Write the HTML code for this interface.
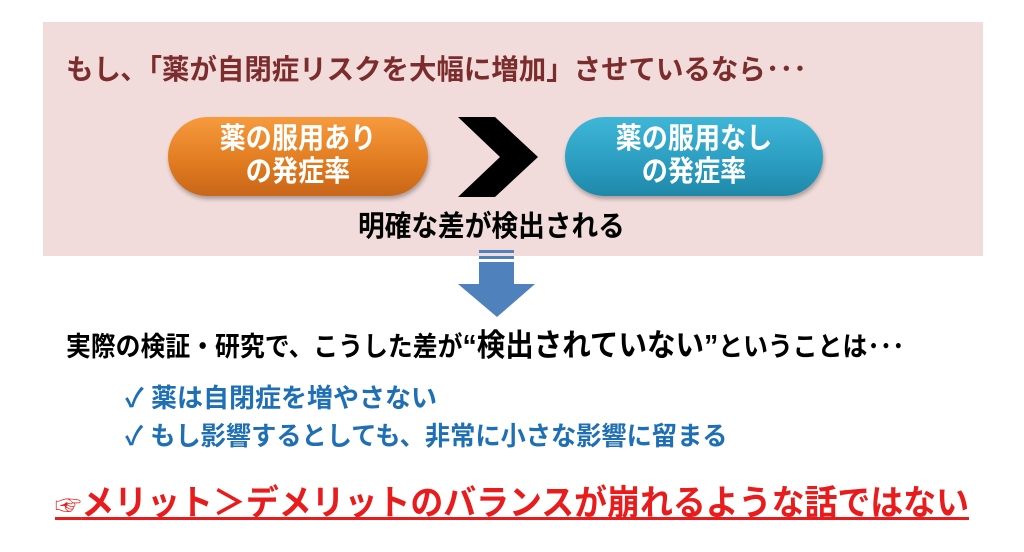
<!DOCTYPE html>
<html><head><meta charset="utf-8"><style>
body{margin:0;width:1024px;height:552px;background:#fff;position:relative;overflow:hidden;font-family:"Liberation Sans","Noto Sans CJK JP",sans-serif}
.t{position:absolute;white-space:nowrap;transform-origin:0 50%;line-height:1;font-weight:bold}
.pill{position:absolute;border-radius:40px;color:#fff;font-size:29px;text-align:center;line-height:33px;font-weight:bold;box-shadow:1px 3px 4px rgba(0,0,0,.3)}
</style></head><body>
<div style="position:absolute;left:43px;top:22px;width:940px;height:234px;background:#f2dcdb"></div>
<div class="t" style="left:66px;top:56px;font-size:28px;color:#7b2c2c;transform:scaleX(.98)">もし､「薬が自閉症リスクを大幅に増加」させているなら･･･</div>
<div class="pill" style="left:168px;top:117px;width:260px;height:79px;background:linear-gradient(#f79a3e,#e07a1f 60%,#c8661a)"><div style="padding-top:6px;transform:scaleX(.9)">薬の服用あり<br>の発症率</div></div>
<div class="pill" style="left:565px;top:117px;width:258px;height:79px;background:linear-gradient(#3fb6d8,#2a9cc0 60%,#1f88a8)"><div style="padding-top:6px;transform:scaleX(.9)">薬の服用なし<br>の発症率</div></div>
<svg style="position:absolute;left:0;top:0" width="1024" height="552">
<polygon points="458,117 495,117 538,157 495,197 458,197 500,157" fill="#000"/>
<rect x="479" y="250" width="35" height="3" fill="#4f81bd"/>
<rect x="479" y="256" width="35" height="3" fill="#4f81bd"/>
<polygon points="479,262 514,262 514,284 535,284 497,317 458,284 479,284" fill="#4f81bd"/>
</svg>
<div class="t" style="left:358px;top:213px;font-size:29px;color:#000;transform:scaleX(.92)">明確な差が検出される</div>
<div class="t" style="left:66px;top:330px;font-size:27px;color:#000;transform:scaleX(.92)">実際の検証・研究で、こうした差が<span style="font-size:31px">“検出されていない”</span>ということは･･･</div>
<div class="t" style="left:125px;top:385px;font-size:26px;color:#1f6fb5;transform:scaleX(1)">✓ 薬は自閉症を増やさない</div>
<div class="t" style="left:125px;top:423px;font-size:26px;color:#1f6fb5;transform:scaleX(.97)">✓ もし影響するとしても、非常に小さな影響に留まる</div>
<div class="t" style="left:55px;top:486px;font-size:35px;color:#e81c1c;transform:scaleX(.94);text-decoration:underline;text-decoration-thickness:3px"><span style="font-size:28px">☞</span>メリット＞デメリットのバランスが崩れるような話ではない</div>
</body></html>
